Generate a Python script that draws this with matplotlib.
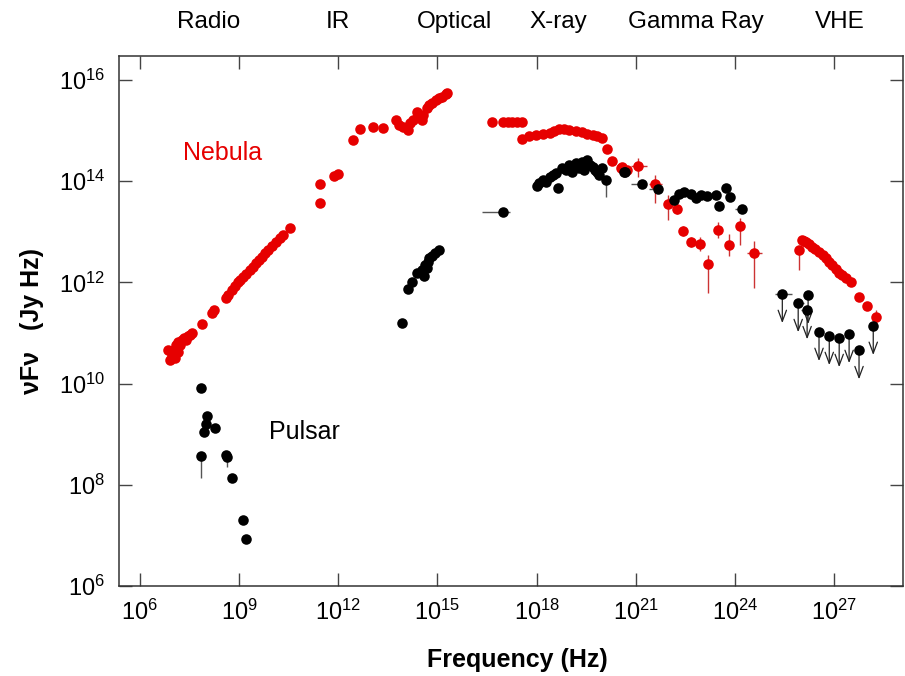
import matplotlib
matplotlib.use("Agg")
import matplotlib.pyplot as plt
import matplotlib.ticker as mticker
import numpy as np

plt.rcParams["font.family"] = ["Liberation Sans", "DejaVu Sans"]
plt.rcParams["mathtext.fontset"] = "custom"
plt.rcParams["mathtext.rm"] = "Liberation Sans"
plt.rcParams["mathtext.it"] = "Liberation Sans:italic"
plt.rcParams["mathtext.bf"] = "Liberation Sans:bold"

RED = "#e60000"
RED_ERR = "#cc3333"
BLK = "black"
BLK_ERR = "#555555"

# ---- data, all as log10(frequency / Hz) and log10(nu F_nu / Jy Hz) ----
# Nebula, points without visible error bars
neb_lognu = [6.85, 6.91, 6.97, 7.03, 7.06, 7.09, 7.15, 7.15, 7.21, 7.27, 7.33, 7.39, 7.45, 7.51, 7.57,
             7.87, 8.18, 8.24, 8.60, 8.66, 8.78, 8.87, 8.96, 9.02, 9.11, 9.20, 9.32, 9.41, 9.50, 9.60,
             9.69, 9.78, 9.87, 9.99, 10.11, 10.23, 10.32, 10.53,
             11.44, 11.44, 11.86, 11.98, 12.44, 12.65, 13.04, 13.34,
             13.76, 13.85, 13.95, 14.10, 14.16, 14.25, 14.37, 14.40, 14.52, 14.55, 14.67, 14.76,
             14.85, 14.97, 15.06, 15.15, 15.27, 15.30,
             16.66, 16.97, 17.12, 17.27, 17.42, 17.57,
             17.57, 17.78, 17.99, 18.18, 18.39, 18.54, 18.69, 18.84, 18.99, 19.20, 19.38, 19.53,
             19.69, 19.84, 19.99, 20.14, 20.29, 20.56, 20.74, 20.59,
             26.03, 26.09, 26.15, 26.24, 26.33, 26.42, 26.54, 26.65, 26.76, 26.85, 26.94, 27.05,
             27.15, 27.25, 27.36, 27.51, 27.75, 27.99]
neb_logf = [10.66, 10.47, 10.57, 10.66, 10.51, 10.76, 10.82, 10.62, 10.76, 10.86, 10.90, 10.86, 10.94, 10.96, 11.00,
            11.18, 11.40, 11.45, 11.69, 11.75, 11.85, 11.93, 12.01, 12.05, 12.11, 12.17, 12.25, 12.30, 12.38, 12.44,
            12.50, 12.58, 12.64, 12.72, 12.80, 12.88, 12.94, 13.08,
            13.94, 13.57, 14.10, 14.14, 14.81, 15.03, 15.07, 15.05,
            15.21, 15.11, 15.07, 15.01, 15.15, 15.21, 15.37, 15.31, 15.21, 15.31, 15.45, 15.51,
            15.55, 15.60, 15.64, 15.66, 15.72, 15.74,
            15.17, 15.17, 15.17, 15.17, 15.17, 15.17,
            14.83, 14.89, 14.91, 14.93, 14.95, 14.99, 15.03, 15.03, 15.01, 14.99, 14.97, 14.93,
            14.91, 14.89, 14.85, 14.64, 14.40, 14.26, 14.22, 14.28,
            12.84, 12.82, 12.80, 12.75, 12.70, 12.65, 12.60, 12.54, 12.48, 12.41, 12.34, 12.26,
            12.19, 12.14, 12.09, 12.01, 11.71, 11.53]

# Nebula, points with error bars (low / high ends of the bars)
neb_err_lognu = [21.08, 21.59, 21.98, 22.25, 22.43, 22.68, 22.95, 23.19, 23.49, 23.82, 24.16, 24.58, 25.94, 28.27]
neb_err_logf = [14.30, 13.94, 13.55, 13.45, 13.02, 12.80, 12.76, 12.36, 13.04, 12.74, 13.11, 12.58, 12.64, 11.32]
neb_err_flo = [14.08, 13.57, 13.23, 13.35, 12.92, 12.70, 12.62, 11.79, 12.88, 12.52, 12.74, 11.89, 12.25, 11.18]
neb_err_fhi = [14.46, 14.12, 13.73, 13.55, 13.12, 12.90, 12.90, 12.54, 13.20, 12.96, 13.28, 12.82, 12.70, 11.46]
neb_err_nulo = [20.86, 21.41, 21.98, 22.25, 22.43, 22.68, 22.95, 23.19, 23.49, 23.82, 24.16, 24.37, 25.94, 28.27]
neb_err_nuhi = [21.35, 21.80, 21.98, 22.25, 22.43, 22.68, 22.95, 23.19, 23.49, 23.82, 24.16, 24.82, 25.94, 28.27]

# Pulsar, points without visible error bars
psr_lognu = [7.84, 8.02, 7.99, 7.93, 8.27, 8.60, 8.78, 9.11, 9.20,
             13.92, 14.10, 14.22, 14.37, 14.52, 14.58, 14.61, 14.67, 14.70, 14.76, 14.85, 14.94, 15.06,
             18.02, 18.08, 18.18, 18.27, 18.39, 18.48, 18.60, 18.66, 18.78, 18.90, 18.99, 19.08,
             19.20, 19.29, 19.38, 19.44, 19.53, 19.60, 19.69, 19.78, 19.84, 19.90, 19.99, 20.65, 20.68,
             22.16, 22.31, 22.47, 22.68, 22.83, 22.98, 23.16, 23.43, 23.52, 23.73, 23.85]
psr_logf = [9.91, 9.36, 9.20, 9.04, 9.12, 8.59, 8.13, 7.30, 6.93,
            11.20, 11.87, 12.01, 12.19, 12.25, 12.13, 12.34, 12.28, 12.40, 12.48, 12.52, 12.58, 12.64,
            13.91, 13.96, 14.02, 13.98, 14.08, 14.12, 14.16, 13.87, 14.26, 14.22, 14.32, 14.18,
            14.36, 14.26, 14.38, 14.22, 14.42, 14.32, 14.28, 14.22, 14.18, 14.12, 14.26, 14.18, 14.18,
            13.63, 13.75, 13.79, 13.75, 13.67, 13.73, 13.71, 13.73, 13.51, 13.87, 13.69]

# Pulsar, points with error bars
psr_err_lognu = [7.84, 8.63, 16.97, 20.11, 21.20, 21.68, 24.22]
psr_err_logf = [8.57, 8.55, 13.39, 14.02, 13.94, 13.85, 13.45]
psr_err_flo = [8.13, 8.35, 13.39, 13.69, 13.94, 13.85, 13.45]
psr_err_fhi = [8.60, 8.58, 13.39, 14.05, 13.94, 13.85, 13.45]
psr_err_nulo = [7.84, 8.63, 16.36, 20.11, 20.86, 21.41, 24.00]
psr_err_nuhi = [7.84, 8.63, 17.18, 20.11, 21.20, 21.68, 24.22]

# Pulsar, VHE upper limits
ul_lognu = [25.43, 25.91, 26.21, 26.18, 26.54, 26.85, 27.15, 27.45, 27.75, 28.18]
ul_logf = [11.77, 11.59, 11.75, 11.45, 11.02, 10.94, 10.90, 10.98, 10.66, 11.14]
ul_nulo = [25.22, 25.82, 26.21, 26.00, 26.42, 26.85, 27.15, 27.45, 27.75, 28.06]
ul_nuhi = [25.73, 26.09, 26.21, 26.30, 26.54, 26.85, 27.15, 27.45, 27.75, 28.30]

bands = ["Radio", "IR", "Optical", "X-ray", "Gamma Ray", "VHE"]
band_lognu = [8.08, 11.98, 15.52, 18.66, 22.83, 27.18]


def p(a):
    return 10.0 ** np.asarray(a)


def err_pairs(c, lo, hi):
    c, lo, hi = p(c), p(lo), p(hi)
    return [c - lo, hi - c]


fig = plt.figure(figsize=(9.05, 6.76), dpi=100)
ax = fig.add_axes([0.1315, 0.1331, 0.8663, 0.7840])
ax.set_xscale("log")
ax.set_yscale("log")

ms = 7.6
ax.errorbar(p(neb_err_lognu), p(neb_err_logf),
            yerr=err_pairs(neb_err_logf, neb_err_flo, neb_err_fhi),
            xerr=err_pairs(neb_err_lognu, neb_err_nulo, neb_err_nuhi),
            fmt="o", color=RED, ecolor=RED_ERR, elinewidth=1.0, capsize=0, ms=ms, mew=0, zorder=3)
ax.plot(p(neb_lognu), p(neb_logf), "o", color=RED, ms=ms, mew=0, zorder=3)

ax.errorbar(p(psr_err_lognu), p(psr_err_logf),
            yerr=err_pairs(psr_err_logf, psr_err_flo, psr_err_fhi),
            xerr=err_pairs(psr_err_lognu, psr_err_nulo, psr_err_nuhi),
            fmt="o", color=BLK, ecolor=BLK_ERR, elinewidth=1.0, capsize=0, ms=ms, mew=0, zorder=4)
ax.plot(p(psr_lognu), p(psr_logf), "o", color=BLK, ms=ms, mew=0, zorder=4)

# upper limits: point, horizontal bar, open arrow downwards
ax.errorbar(p(ul_lognu), p(ul_logf), xerr=err_pairs(ul_lognu, ul_nulo, ul_nuhi),
            fmt="o", color=BLK, ecolor=BLK_ERR, elinewidth=1.0, capsize=0, ms=ms, mew=0, zorder=4)
for xu, yu in zip(ul_lognu, ul_logf):
    ax.annotate("", xy=(10 ** xu, 10 ** yu), xytext=(0, -21), textcoords="offset points",
                arrowprops=dict(arrowstyle="<-,head_length=0.8,head_width=0.3",
                                color="#222222", lw=0.9, shrinkA=0, shrinkB=0), zorder=2)

ax.set_xlim(10 ** 5.37, 10 ** 29.08)
ax.set_ylim(1e6, 10 ** 16.47)
ax.xaxis.set_major_locator(mticker.FixedLocator(p(np.arange(6, 28, 3))))
ax.yaxis.set_major_locator(mticker.FixedLocator(p(np.arange(6, 17, 2))))
ax.xaxis.set_minor_locator(mticker.NullLocator())
ax.yaxis.set_minor_locator(mticker.NullLocator())
fmt = mticker.FuncFormatter(lambda v, _: r"$10^{%d}$" % int(round(np.log10(v))))
ax.xaxis.set_major_formatter(fmt)
ax.yaxis.set_major_formatter(fmt)
ax.tick_params(which="major", direction="in", length=9.5, width=1.0, color="#444444",
               top=True, right=True, labelsize=17, pad=10)
for s in ax.spines.values():
    s.set_color("#333333")
    s.set_linewidth(1.1)

ax.text(10 ** 8.51, 10 ** 14.56, "Nebula", color=RED, fontsize=18, ha="center", va="center")
ax.text(10 ** 10.98, 10 ** 9.04, "Pulsar", color="black", fontsize=18, ha="center", va="center")

trans = ax.get_xaxis_transform()
for name, lx in zip(bands, band_lognu):
    ax.text(10 ** lx, 1.064, name, transform=trans, fontsize=17.5, ha="center", va="center",
            clip_on=False)

fig.text(517 / 905, 1 - 660 / 676, "Frequency (Hz)", fontsize=18, fontweight="bold",
         ha="center", va="center")
fig.text(32 / 905, 1 - 321 / 676, "\u03bdF\u03bd   (Jy Hz)", fontsize=18, fontweight="bold",
         rotation=90, ha="center", va="center")

fig.savefig("out.png", dpi=100)
